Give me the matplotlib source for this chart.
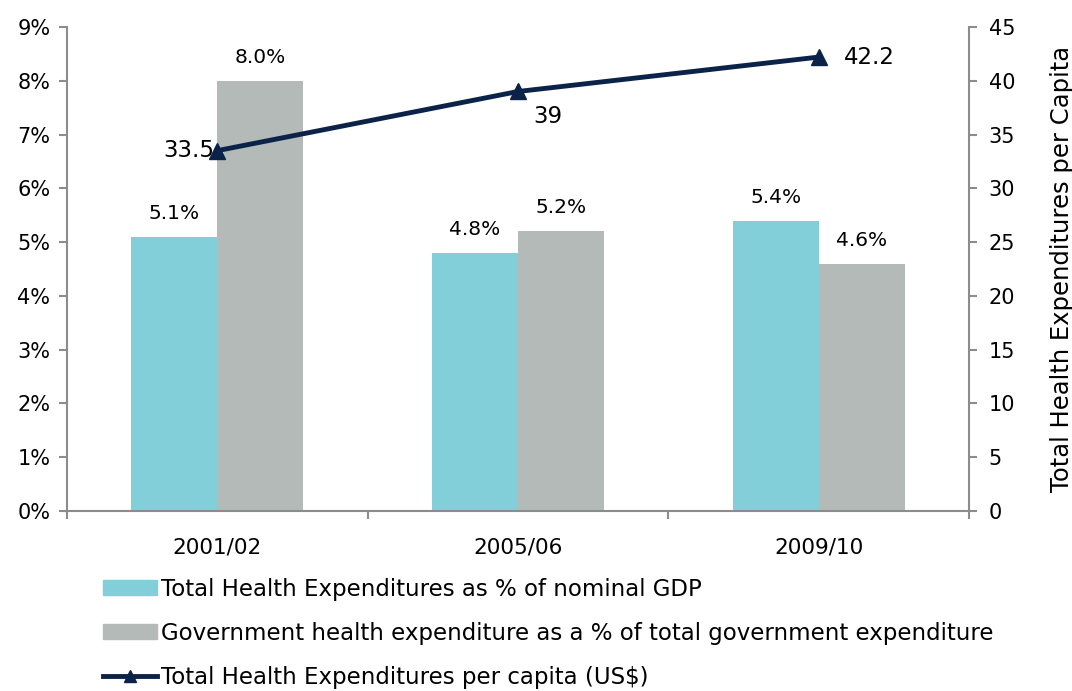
import numpy as np
import matplotlib.pyplot as plt
from matplotlib.lines import Line2D
from matplotlib.patches import Patch

# Datos
years = ["2001/02", "2005/06", "2009/10"]
gdp_share = [5.1, 4.8, 5.4]
gov_share = [8.0, 5.2, 4.6]
per_capita = [33.5, 39, 42.2]

teal = "#82CFDA"
grey = "#B3BAB7"
navy = "#0B2349"
axis_col = "#8C8C8C"

plt.rcParams['font.family'] = ['DejaVu Sans']

fig = plt.figure(figsize=(10.72, 6.91), dpi=100)
ax = fig.add_axes([0.0625, 0.2605, 0.8415, 0.7005])
ax2 = ax.twinx()

x = np.arange(len(years))
w = 0.286
b1 = ax.bar(x - w / 2, gdp_share, w, color=teal, linewidth=0)
b2 = ax.bar(x + w / 2, gov_share, w, color=grey, linewidth=0)

for rect, v in zip(b1, gdp_share):
    ax.annotate(f"{v:.1f}%", (rect.get_x() + rect.get_width() / 2, v),
                xytext=(0, 10), textcoords='offset points', ha='center', va='bottom', fontsize=14.5)
for rect, v in zip(b2, gov_share):
    ax.annotate(f"{v:.1f}%", (rect.get_x() + rect.get_width() / 2, v),
                xytext=(0, 10), textcoords='offset points', ha='center', va='bottom', fontsize=14.5)

ax.set_xlim(-0.5, 2.5)
ax.set_ylim(0, 9)
ax.set_yticks(range(0, 10))
ax.set_yticklabels([f"{i}%" for i in range(0, 10)])
ax.set_xticks(x)
ax.set_xticklabels(years)
ax.set_xticks([-0.5, 0.5, 1.5, 2.5], minor=True)
ax.tick_params(axis='x', which='major', length=0, pad=19, labelsize=15.5)
ax.tick_params(axis='x', which='minor', length=6, color=axis_col, width=1.5)
ax.tick_params(axis='y', length=6, color=axis_col, width=1.5, labelsize=15, pad=6)

for s in ['top', 'right']:
    ax.spines[s].set_visible(False)
for s in ['left', 'bottom']:
    ax.spines[s].set_color(axis_col)
    ax.spines[s].set_linewidth(1.5)

# Linea per capita
ax2.plot(x, per_capita, color=navy, linewidth=3.5, marker='^', markersize=12)
ax2.set_ylim(0, 45)
ax2.set_yticks(range(0, 50, 5))
ax2.tick_params(axis='y', length=6, color=axis_col, width=1.5, labelsize=15, pad=8)
for s in ['top', 'left', 'bottom']:
    ax2.spines[s].set_visible(False)
ax2.spines['right'].set_color(axis_col)
ax2.spines['right'].set_linewidth(1.5)
ax2.set_ylabel("Total Health Expenditures per Capita", fontsize=17.5, labelpad=25)

offsets = [(-2, 0, 'right', 'center'), (11, -18, 'left', 'center'), (18, 0, 'left', 'center')]
for xi, v, (dx, dy, ha, va) in zip(x, per_capita, offsets):
    ax2.annotate(f"{v:g}", (xi, v), xytext=(dx, dy), textcoords='offset points',
                 ha=ha, va=va, fontsize=16.5)

handles = [
    Patch(color=teal),
    Patch(color=grey),
    Line2D([0], [0], color=navy, linewidth=3.5, marker='^', markersize=9),
]
labels = [
    "Total Health Expenditures as % of nominal GDP",
    "Government health expenditure as a % of total government expenditure",
    "Total Health Expenditures per capita (US$)",
]
fig.legend(handles, labels, loc='upper left', bbox_to_anchor=(0.096, 0.164),
           frameon=False, fontsize=16.5, handlelength=2.35, handleheight=0.6,
           handletextpad=0.18, labelspacing=0.92, borderaxespad=0, borderpad=0)

fig.savefig("out.png", dpi=100)
